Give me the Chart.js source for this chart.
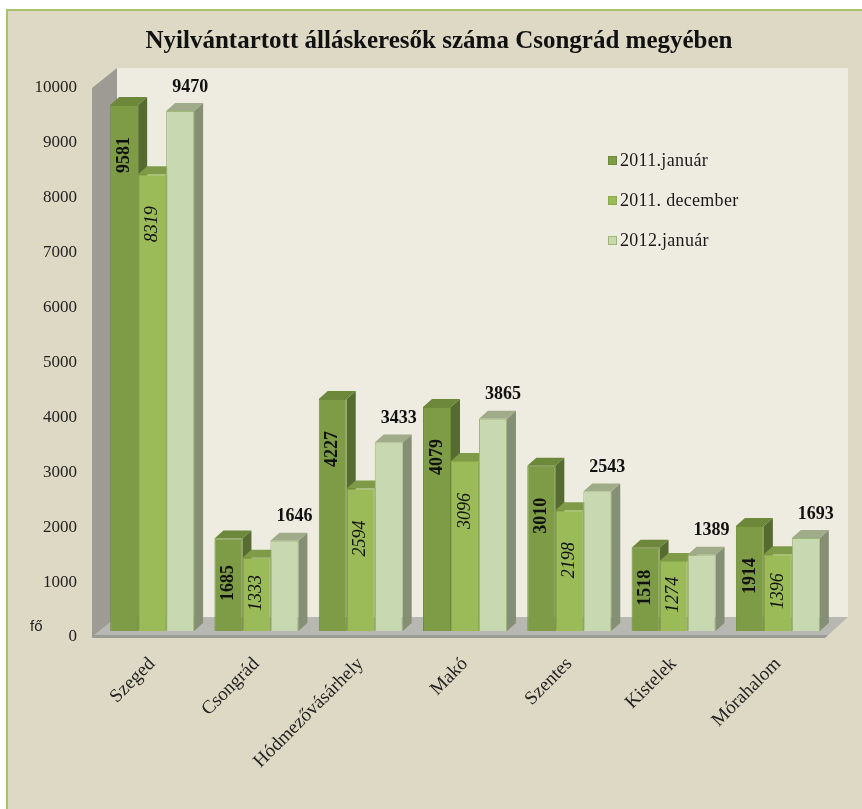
<!DOCTYPE html>
<html><head><meta charset="utf-8">
<script src="https://cdn.jsdelivr.net/npm/chart.js@4.4.1/dist/chart.umd.min.js"></script>
<style>
html,body{margin:0;padding:0;background:#fff;width:862px;height:809px;overflow:hidden;}
#frame{position:absolute;left:6px;top:9px;width:900px;height:850px;background:#DED9C4;border-left:2px solid #A6C36E;border-top:2px solid #A6C36E;}
#c{position:absolute;left:0;top:0;}
</style></head>
<body><div id="frame"></div><canvas id="c" width="862" height="809"></canvas>
<script>
const categories = ['Szeged','Csongrád','Hódmezővásárhely','Makó','Szentes','Kistelek','Mórahalom'];
const seriesNames = ['2011.január','2011. december','2012.január'];
const jan2011 = [9581,1685,4227,4079,3010,1518,1914];
const dec2011 = [8319,1333,2594,3096,2198,1274,1396];
const jan2012 = [9470,1646,3433,3865,2543,1389,1693];
const yMin = 0, yMax = 10000, yStep = 1000;
const titleText = 'Nyilvántartott álláskeresők száma Csongrád megyében';
const unitText = 'fő';

const frontColors = ['#7E9B46','#9BBB59','#C8D8B0'];
const borderColors = ['#6E8B3A','#8AAA4A','#9DB870'];
const faceColors = [
  {top:'#6D883B', side:'#566B2F'},
  {top:'#7F9B48', side:'#6B853B'},
  {top:'#A0AB8A', side:'#858F74'}
];
const DX = 9, DY = 8;

function poly(ctx, pts){
  ctx.beginPath();
  ctx.moveTo(pts[0][0], pts[0][1]);
  for (let i=1;i<pts.length;i++) ctx.lineTo(pts[i][0], pts[i][1]);
  ctx.closePath();
  ctx.fill();
}

const threeD = {
  id:'threeD',
  beforeDatasetsDraw(chart){
    const ctx = chart.ctx, a = chart.chartArea;
    ctx.save();
    ctx.fillStyle = '#EEEBE0';
    ctx.fillRect(a.left+17, a.top-14, (a.right+18)-(a.left+17), (a.bottom-14)-(a.top-14));
    ctx.fillStyle = '#9E9B94';
    poly(ctx, [[a.left-8,a.top+6],[a.left+17,a.top-14],[a.left+17,a.bottom-14],[a.left-8,a.bottom+6]]);
    ctx.fillStyle = '#B8B8B2';
    poly(ctx, [[a.left-8,a.bottom+6],[a.left+17,a.bottom-14],[a.right+18,a.bottom-14],[a.right-4,a.bottom+6]]);
    ctx.fillStyle = '#9B9B95';
    poly(ctx, [[a.left-8,a.bottom+4],[a.right-2,a.bottom+4],[a.right-5,a.bottom+7],[a.left-8,a.bottom+7]]);
    const n = chart.data.labels.length;
    for (let i=0;i<n;i++){
      for (let d=0; d<chart.data.datasets.length; d++){
        const bar = chart.getDatasetMeta(d).data[i];
        const p = bar.getProps(['x','y','base','width'], true);
        const l = p.x - p.width/2, r = p.x + p.width/2;
        ctx.fillStyle = faceColors[d].side;
        poly(ctx, [[r,p.y],[r+DX,p.y-DY],[r+DX,p.base-DY],[r,p.base]]);
        ctx.fillStyle = faceColors[d].top;
        poly(ctx, [[l,p.y],[l+DX,p.y-DY],[r+DX,p.y-DY],[r,p.y]]);
      }
    }
    ctx.restore();
  },
  afterDatasetsDraw(chart){
    const ctx = chart.ctx, a = chart.chartArea;
    ctx.save();
    ctx.fillStyle = '#111';
    const n = chart.data.labels.length;
    for (let i=0;i<n;i++){
      for (let d=0; d<chart.data.datasets.length; d++){
        const bar = chart.getDatasetMeta(d).data[i];
        const p = bar.getProps(['x','y','base','width'], true);
        const val = chart.data.datasets[d].data[i];
        const h = p.base - p.y;
        if (d < 2){
          ctx.save();
          ctx.font = (d===0 ? 'bold ' : 'italic ') + '18px "Liberation Serif"';
          ctx.textAlign = 'center';
          ctx.textBaseline = 'middle';
          ctx.translate(p.x, p.y + Math.min(50, 0.48*h));
          ctx.rotate(-Math.PI/2);
          ctx.fillText(String(val), 0, 0);
          ctx.restore();
        } else {
          ctx.font = 'bold 18px "Liberation Serif"';
          ctx.textAlign = 'center';
          ctx.textBaseline = 'middle';
          ctx.fillText(String(val), p.x + 10, p.y - 24);
        }
      }
    }
    const lx = a.left + 508, ly = a.top + 79;
    ctx.font = '18px "Liberation Serif"';
    ctx.textAlign = 'left';
    ctx.textBaseline = 'middle';
    try { ctx.letterSpacing = '0.3px'; } catch(e){}
    chart.data.datasets.forEach((ds, k) => {
      const yy = ly + 40*k;
      ctx.fillStyle = ds.backgroundColor;
      ctx.fillRect(lx, yy-5, 9, 9);
      ctx.strokeStyle = ds.borderColor;
      ctx.lineWidth = 1;
      ctx.strokeRect(lx+0.5, yy-4.5, 8, 8);
      ctx.fillStyle = '#1a1a1a';
      ctx.fillText(ds.label, lx + 12, yy);
    });
    try { ctx.letterSpacing = '0px'; } catch(e){}
    ctx.font = '15px "Liberation Sans"';
    ctx.fillStyle = '#222';
    ctx.textAlign = 'left';
    ctx.fillText(unitText, a.left - 70, a.bottom - 4);
    ctx.restore();
  }
};

const datasets = [jan2011, dec2011, jan2012].map((arr, k) => ({
  label: seriesNames[k],
  data: arr,
  backgroundColor: frontColors[k],
  borderColor: borderColors[k],
  borderWidth: 1,
  categoryPercentage: 0.805,
  barPercentage: 1.0
}));

new Chart(document.getElementById('c'), {
  type: 'bar',
  data: { labels: categories, datasets },
  plugins: [threeD],
  options: {
    responsive: false,
    animation: false,
    devicePixelRatio: 1,
    layout: { padding: { left: 16, right: 0, top: 0, bottom: 0 } },
    plugins: {
      legend: { display: false },
      tooltip: { enabled: false },
      title: {
        display: true,
        text: titleText,
        color: '#111',
        font: { family: '"Liberation Serif"', size: 25, weight: 'bold' },
        padding: { top: 27, bottom: 25 }
      }
    },
    scales: {
      x: {
        grid: { display: false, drawTicks: false },
        border: { display: false },
        ticks: {
          autoSkip: false, minRotation: 45, maxRotation: 45, padding: 22,
          color: '#222', font: { family: '"Liberation Serif"', size: 19 }
        },
        afterFit(s){ s.height = 178; }
      },
      y: {
        min: yMin, max: yMax,
        grid: { display: false, drawTicks: false },
        border: { display: false },
        ticks: {
          stepSize: yStep, labelOffset: 6, padding: 23,
          color: '#222', font: { family: '"Liberation Serif"', size: 17 },
          callback: (v) => String(v)
        },
        afterFit(s){ s.width = 84; }
      },
      y2: {
        position: 'right',
        display: true,
        grid: { display: false, drawTicks: false },
        border: { display: false },
        ticks: { display: false },
        afterFit(s){ s.width = 32; }
      }
    }
  }
});
</script>
</body></html>
